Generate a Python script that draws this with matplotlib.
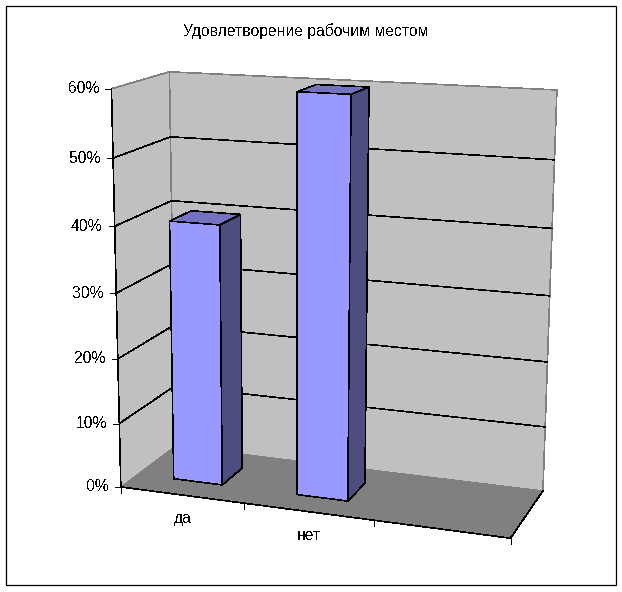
import numpy as np
import matplotlib
matplotlib.use("Agg")
import matplotlib.pyplot as plt
from matplotlib.patches import Polygon, Rectangle

# ---- data ----
title = "Удовлетворение рабочим местом"
categories = ["да", "нет", ""]
values = [40, 60]
y_ticks = [0, 10, 20, 30, 40, 50, 60]
y_labels = ["0%", "10%", "20%", "30%", "40%", "50%", "60%"]

# ---- style / layout ----
WALL, FLOOR = "#C0C0C0", "#808080"
FRONT, TOP, SIDE = "#9999FF", "#7373BF", "#4D4D80"
LW = 0.45
YMAX = 60.0
BAR_W, BAR_D = 0.4, 0.4
FS = 11.3

plt.rcParams["font.family"] = ["Liberation Sans", "DejaVu Sans"]
plt.rcParams["text.antialiased"] = False

# calibration of the perspective view: (category pos, value, depth) -> pixel, weight
calib = [
    ((0, 0, 0), (122, 486), 10), ((3, 0, 0), (510.7, 539), 10),
    ((0, 0, 1), (174, 447), 10), ((3, 0, 1), (543, 490), 10),
    ((0, 60, 0), (110, 89), 10), ((0, 60, 1), (171, 71.5), 10),
    ((3, 60, 1), (556.7, 90), 10),
    ((1, 0, 0), (245.3, 503), 1), ((2, 0, 0), (373.5, 520.5), 1),
    ((0, 50, 0), (112, 158.3), 1), ((0, 40, 0), (114, 227.3), 1),
    ((0, 10, 0), (120.5, 422.7), 1),
    ((0.3, 0, 0.3), (175.3, 477.3), 1), ((0.7, 0, 0.3), (223.7, 483.3), 1),
    ((0.7, 0, 0.7), (244.3, 466), 1),
    ((1.3, 0, 0.3), (297.3, 494.3), 1), ((1.7, 0, 0.3), (348.3, 500), 1),
    ((1.7, 0, 0.7), (365.7, 482.3), 1),
    ((0.3, 40, 0.3), (169.7, 221.3), 1), ((0.7, 40, 0.3), (219.7, 225.3), 1),
    ((0.7, 40, 0.7), (241.7, 214.3), 1), ((0.3, 40, 0.7), (191.7, 210.3), 1),
    ((1.3, 60, 0.3), (295.7, 92.3), 1), ((1.7, 60, 0.3), (349.7, 95), 1),
    ((1.7, 60, 0.7), (368.7, 87.3), 1), ((1.3, 60, 0.7), (315, 85.3), 1),
]
A = []
for (x, v, z), (u, w), k in calib:
    X = [x, v / YMAX, z, 1]
    A.append([k * c for c in X + [0, 0, 0, 0] + [-u * c for c in X]])
    A.append([k * c for c in [0, 0, 0, 0] + X + [-w * c for c in X]])
P = np.linalg.svd(np.array(A, float))[2][-1].reshape(3, 4)


def proj(x, v, z):
    h = P @ np.array([x, v / YMAX, z, 1.0])
    return h[0] / h[2], h[1] / h[2]


fig = plt.figure(figsize=(6.22, 5.92), dpi=100)
ax = fig.add_axes([0, 0, 1, 1])
ax.set_xlim(0, 622)
ax.set_ylim(592, 0)
ax.axis("off")


def face(pts, fc, ec="none", z=1):
    ax.add_patch(Polygon([proj(*p) for p in pts], closed=True, fc=fc, ec=ec,
                         lw=LW, zorder=z, antialiased=False))


def seg(a, b, c="black", z=2, lw=LW):
    pa, pb = proj(*a), proj(*b)
    ax.plot([pa[0], pb[0]], [pa[1], pb[1]], color=c, lw=lw, zorder=z,
            solid_capstyle="butt", antialiased=False)


n = len(categories)
# outer frame
ax.add_patch(Rectangle((6, 6), 609.5, 579, fc="white", ec="black", lw=0.9, zorder=0,
                       antialiased=True))

# walls and floor
face([(0, 0, 0), (0, YMAX, 0), (0, YMAX, 1), (0, 0, 1)], WALL)
face([(0, 0, 1), (0, YMAX, 1), (n, YMAX, 1), (n, 0, 1)], WALL)
face([(0, 0, 0), (n, 0, 0), (n, 0, 1), (0, 0, 1)], FLOOR)

# wall edges
seg((0, YMAX, 0), (0, YMAX, 1), FLOOR)
seg((0, YMAX, 1), (n, YMAX, 1), FLOOR)
seg((n, YMAX, 1), (n, 0, 1), FLOOR)
seg((0, YMAX, 1), (0, 0, 1), FLOOR)

# gridlines
for t in y_ticks[1:-1]:
    seg((0, t, 0), (0, t, 1))
    seg((0, t, 1), (n, t, 1))

# bars
for i, val in enumerate(values):
    x0, x1 = i + 0.5 - BAR_W / 2, i + 0.5 + BAR_W / 2
    z0, z1 = 0.5 - BAR_D / 2, 0.5 + BAR_D / 2
    face([(x0, 0, z0), (x1, 0, z0), (x1, val, z0), (x0, val, z0)], FRONT, "black", 3)
    face([(x1, 0, z0), (x1, 0, z1), (x1, val, z1), (x1, val, z0)], SIDE, "black", 3)
    face([(x0, val, z0), (x1, val, z0), (x1, val, z1), (x0, val, z1)], TOP, "black", 3)

# axes
seg((0, 0, 0), (0, YMAX, 0), z=4)
seg((0, 0, 0), (n, 0, 0), z=4)
seg((n, 0, 0), (n, 0, 1), z=4)

# ticks and labels
for t, lab in zip(y_ticks, y_labels):
    px, py = proj(0, t, 0)
    ax.plot([px - 6, px], [py, py], color="black", lw=LW, zorder=4, antialiased=False)
    ax.text(px - 12, py, lab, ha="right", va="center", fontsize=FS, zorder=5)
for i in range(n + 1):
    px, py = proj(i, 0, 0)
    ax.plot([px, px], [py, py + 6], color="black", lw=LW, zorder=4, antialiased=False)
for i, c in enumerate(categories):
    if c:
        px, py = proj(i + 0.5, 0, 0)
        ax.text(px + 1, py + 23.5, c, ha="center", va="center", fontsize=FS, zorder=5)

ax.text(306, 31, title, ha="center", va="center", fontsize=FS, zorder=5)

fig.savefig("out.png", dpi=100)
